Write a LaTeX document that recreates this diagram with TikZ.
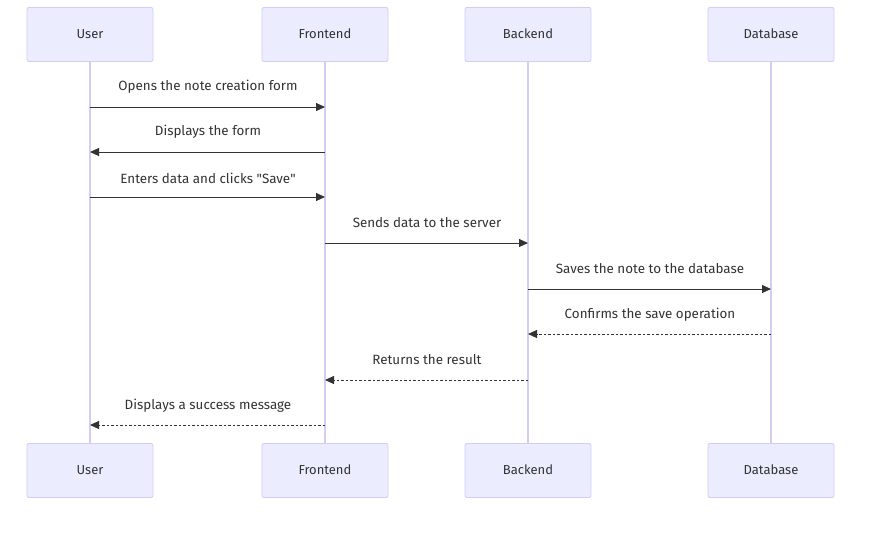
\documentclass[tikz,border=0pt]{standalone}
\usepackage{fontspec}
\setmainfont{Fira Sans}
\usetikzlibrary{arrows.meta}
\definecolor{actfill}{HTML}{ECECFF}
\definecolor{actdraw}{HTML}{D5CCF5}
\definecolor{ink}{HTML}{333333}
\tikzset{
  actor/.style={draw=actdraw, fill=actfill, line width=0.9pt, rounded corners=2pt,
    minimum width=126pt, minimum height=54pt, inner sep=0pt, text=ink,
    text height=9.5pt, text depth=2.5pt,
    font=\fontsize{13}{15}\selectfont},
  life/.style={draw=actdraw, line width=1.4pt},
  msg/.style={draw=ink, line width=1pt, -{Triangle[length=9pt,width=8pt]}},
  reply/.style={msg, dash pattern=on 2.5pt off 2pt},
  lbl/.style={text=ink, font=\fontsize{13.4}{15}\selectfont, inner sep=0pt}
}
\begin{document}
\begin{tikzpicture}[x=1pt,y=-1pt]
\useasboundingbox (0,0) rectangle (870,539);
\foreach \n/\t/\x in {u/User/90,f/Frontend/325,b/Backend/528,d/Database/771}{
  \node[actor] (\n top) at (\x,34.5) {\t};
  \node[actor] (\n bot) at (\x,470.5) {\t};
  \draw[life] (\n top.south) -- (\n bot.north);
}
% message anchor points on lifelines
\foreach \n/\x in {u/90,f/325,b/528,d/771}{
  \foreach \i/\y in {1/107,2/152,3/197,4/243,5/289,6/334,7/380,8/425}{
    \coordinate (\n\i) at (\x,\y);
  }
}
\draw[msg] (u1) -- (f1);
\node[lbl] (t1) at (208,87) {Opens the note creation form};
\draw[msg] (f2) -- (u2);
\node[lbl] (t2) at (208,132) {Displays the form};
\draw[msg] (u3) -- (f3);
\node[lbl] (t3) at (208,178) {Enters data and clicks \textquotedbl Save\textquotedbl};
\draw[msg] (f4) -- (b4);
\node[lbl] (t4) at (427,223) {Sends data to the server};
\draw[msg] (b5) -- (d5);
\node[lbl] (t5) at (650,269) {Saves the note to the database};
\draw[reply] (d6) -- (b6);
\node[lbl] (t6) at (650,315) {Confirms the save operation};
\draw[reply] (b7) -- (f7);
\node[lbl] (t7) at (427,360) {Returns the result};
\draw[reply] (f8) -- (u8);
\node[lbl] (t8) at (208,406) {Displays a success message};
\end{tikzpicture}
\end{document}
